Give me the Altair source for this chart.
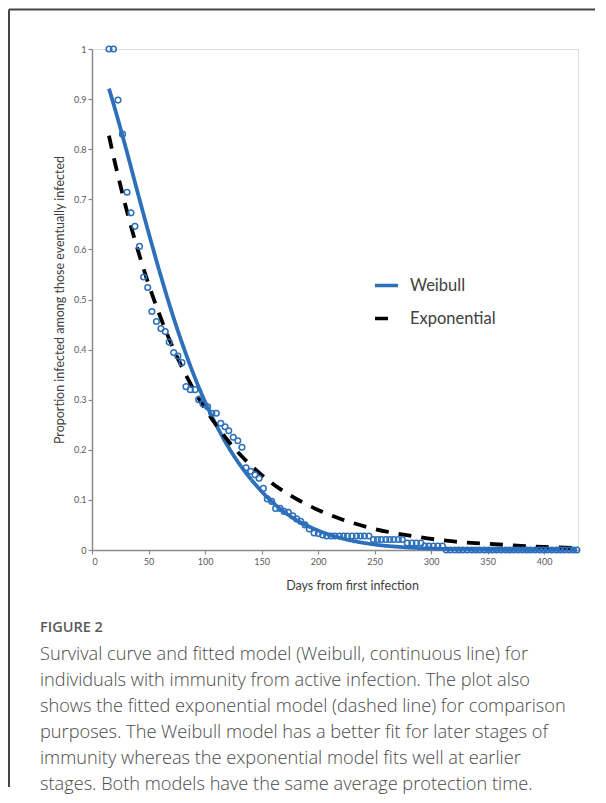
import altair as alt
import pandas as pd

# ---------------- data ----------------
obs_days = [15, 19, 23, 27, 31, 34.5, 38, 42, 45.7, 49.3, 53, 57, 61, 64.8, 68.3, 72.3, 76, 79.6,
            83.2, 87, 91.2, 94.4, 98.2, 102.3, 106, 110, 113.9, 117.7, 121, 125, 129, 132.7,
            136.3, 140.4, 144.2, 147.8, 151.6, 155.1, 159, 162.5, 166.4, 170, 173.7, 177.6, 181,
            184.7, 188.5, 192.3, 196.5, 200.3, 204, 207.7,
            211.5, 215, 219, 222.5, 226, 230, 234, 237.5, 241, 245,
            249, 252.5, 256, 260, 263.5, 267, 271, 274.5,
            279, 283, 287, 291,
            294.5, 298, 302, 306, 310,
            313.5, 317, 321, 324.5, 328, 332, 336, 339.5, 343, 347, 351, 354.5, 358, 362, 366,
            369.5, 373, 377, 381, 384.5, 388, 392, 396, 399.5, 403, 407, 411, 414.5, 418, 422, 426, 429]
obs_prop = [1.0, 1.0, 0.898, 0.830, 0.714, 0.673, 0.646, 0.606, 0.545, 0.524, 0.476, 0.456, 0.442,
            0.436, 0.415, 0.394, 0.387, 0.374, 0.326, 0.320, 0.320, 0.300, 0.292, 0.286, 0.273,
            0.273, 0.253, 0.246, 0.238, 0.225, 0.218, 0.205,
            0.164, 0.157, 0.150, 0.143, 0.123, 0.102, 0.097, 0.083, 0.083, 0.077, 0.075, 0.068,
            0.062, 0.057, 0.050, 0.042, 0.034, 0.033, 0.030, 0.028,
            0.028, 0.028, 0.028, 0.028, 0.028, 0.028, 0.028, 0.028, 0.028, 0.028,
            0.021, 0.021, 0.021, 0.021, 0.021, 0.021, 0.021, 0.021,
            0.014, 0.014, 0.014, 0.014,
            0.008, 0.008, 0.008, 0.008, 0.008,
            0.0, 0.0, 0.0, 0.0, 0.0, 0.0, 0.0, 0.0, 0.0, 0.0, 0.0, 0.0, 0.0, 0.0, 0.0,
            0.0, 0.0, 0.0, 0.0, 0.0, 0.0, 0.0, 0.0, 0.0, 0.0, 0.0, 0.0, 0.0, 0.0, 0.0, 0.0, 0.0]

model_days = [15, 20, 25, 30, 40, 50, 60, 70, 80, 90, 100, 110, 120, 130, 140, 150, 165, 180,
              200, 220, 250, 280, 320, 360, 400, 428]
weibull_prop = [0.921, 0.883, 0.843, 0.802, 0.717, 0.634, 0.554, 0.479, 0.411, 0.350, 0.296,
                0.249, 0.208, 0.173, 0.143, 0.117, 0.085, 0.061, 0.039, 0.024, 0.011, 0.005,
                0.0017, 0.0005, 0.0002, 0.0001]
expo_prop = [0.827, 0.776, 0.729, 0.684, 0.603, 0.531, 0.468, 0.412, 0.363, 0.320, 0.282,
             0.249, 0.219, 0.193, 0.170, 0.150, 0.124, 0.103, 0.080, 0.062, 0.042, 0.029,
             0.017, 0.011, 0.006, 0.004]

series_names = ["Weibull", "Exponential"]
x_ticks = [0, 50, 100, 150, 200, 250, 300, 350, 400]
y_ticks = [0, 0.1, 0.2, 0.3, 0.4, 0.5, 0.6, 0.7, 0.8, 0.9, 1.0]

fig_label = "FIGURE 2"
caption_lines = [
    "Survival curve and fitted model (Weibull, continuous line) for",
    "individuals with immunity from active infection. The plot also",
    "shows the fitted exponential model (dashed line) for comparison",
    "purposes. The Weibull model has a better fit for later stages of",
    "immunity whereas the exponential model fits well at earlier",
    "stages. Both models have the same average protection time.",
]

# ---------------- tables ----------------
obs_df = pd.DataFrame({"day": obs_days, "prop": obs_prop})
model_df = pd.concat([
    pd.DataFrame({"day": model_days, "prop": weibull_prop, "model": series_names[0]}),
    pd.DataFrame({"day": model_days, "prop": expo_prop, "model": series_names[1]}),
])

BLUE = "#2C6FBB"
CHART_FONT = "Lato"

x_enc = alt.X("day:Q",
              scale=alt.Scale(domain=[0, 430], nice=False, zero=True),
              axis=alt.Axis(values=x_ticks, title="Days from first infection", grid=False,
                            domainColor="#8a8a8a", domainWidth=1.5, tickColor="#8a8a8a",
                            tickWidth=1.2, tickSize=4, labelPadding=3, labelFontSize=9,
                            labelFont=CHART_FONT, labelColor="#595959", titleFont=CHART_FONT,
                            titleFontSize=12.5, titleFontWeight="normal", titleColor="#404040",
                            titleX=260, titleY=35, titleBaseline="middle", titleAnchor="middle"))
y_enc = alt.Y("prop:Q",
              scale=alt.Scale(domain=[0, 1], nice=False),
              axis=alt.Axis(values=y_ticks, format="~g",
                            title="Proportion infected among those eventually infected",
                            grid=False, domainColor="#8a8a8a", domainWidth=1.5,
                            tickColor="#8a8a8a", tickWidth=1.2, tickSize=4, labelPadding=2,
                            labelFontSize=9, labelFont=CHART_FONT, labelColor="#595959",
                            titleFont=CHART_FONT, titleFontSize=12.5, titleFontWeight="normal",
                            titleColor="#404040", titleX=-33, titleY=250.5,
                            titleBaseline="middle", titleAnchor="middle"))

legend_opts = dict(orient="none", legendX=281, legendY=223, title=None,
                   symbolType="stroke", symbolSize=529, symbolStrokeWidth=3.5,
                   labelFont=CHART_FONT, labelFontSize=16.5, labelColor="#404040",
                   labelOffset=10, rowPadding=11, padding=0)

lines = alt.Chart(model_df).mark_line(interpolate="monotone", strokeWidth=3.8).encode(
    x=x_enc, y=y_enc,
    color=alt.Color("model:N",
                    scale=alt.Scale(domain=series_names, range=[BLUE, "#000000"]),
                    legend=alt.Legend(**legend_opts)),
    strokeDash=alt.StrokeDash("model:N",
                              scale=alt.Scale(domain=series_names, range=[[1, 0], [13, 10]]),
                              legend=alt.Legend(**legend_opts)),
    detail="model:N",
)

points = alt.Chart(obs_df).mark_point(shape="circle", filled=False, size=32, strokeWidth=1.5,
                                      color=BLUE, opacity=1).encode(x="day:Q", y="prop:Q")

one = alt.Data(values=[{}])
frame_left = alt.Chart(one).mark_rule(color="#444444", strokeWidth=2).encode(
    x=alt.value(-83), y=alt.value(-39.5), y2=alt.value(738))
frame_top = alt.Chart(one).mark_rule(color="#444444", strokeWidth=2).encode(
    x=alt.value(-83), x2=alt.value(503), y=alt.value(-39.5))

fig_text = alt.Chart(one).mark_text(align="left", baseline="alphabetic", font="Open Sans",
                                    fontSize=14.5, fontWeight=600, color="#5a5a5a").encode(
    x=alt.value(-52), y=alt.value(583), text=alt.value(fig_label))
cap_text = alt.Chart(one).mark_text(align="left", baseline="alphabetic", font="Open Sans",
                                    fontSize=18.2, fontWeight=300, lineHeight=26,
                                    color="#4a4a4a").encode(
    x=alt.value(-52), y=alt.value(611), text=alt.value(caption_lines))

chart = alt.layer(lines, points, frame_left, frame_top, fig_text, cap_text).properties(
    width=486, height=501, padding=0
).configure_view(stroke=None).configure(background="white")

chart.save("out.html", embed_options={"renderer": "svg", "actions": False})
